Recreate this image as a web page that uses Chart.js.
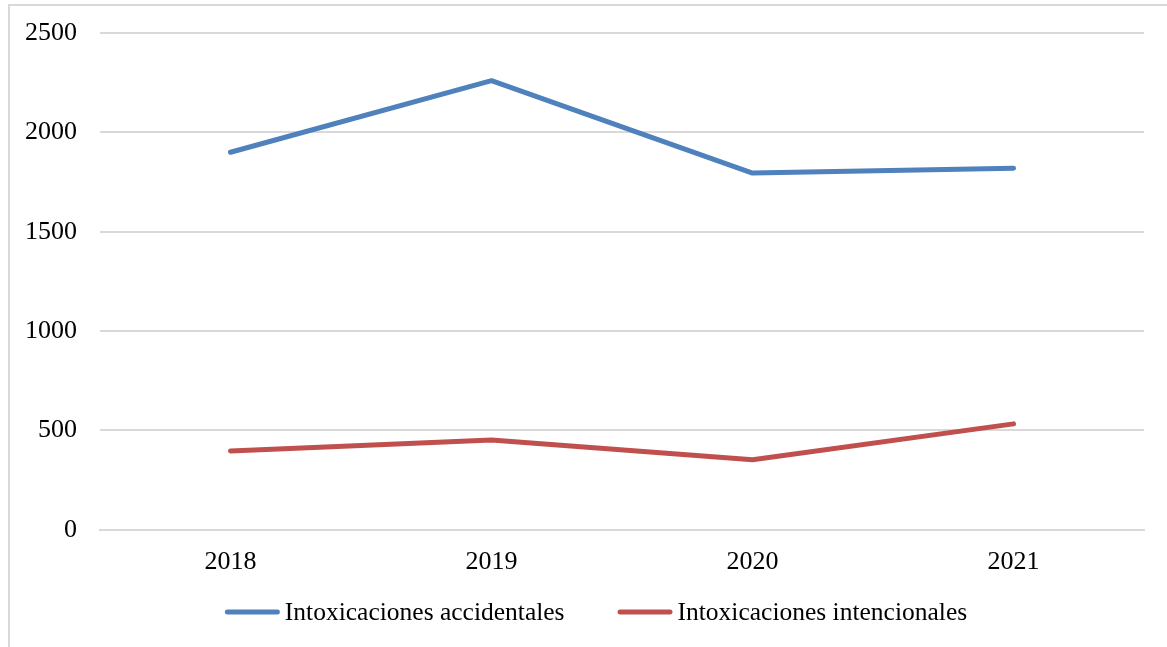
<!DOCTYPE html>
<html>
<head>
<meta charset="utf-8">
<script src="https://cdn.jsdelivr.net/npm/chart.js@4/dist/chart.umd.min.js"></script>
<style>
html,body{margin:0;padding:0;background:#fff;}
#wrap{position:relative;width:1167px;height:647px;}
#frame{position:absolute;left:8px;top:4px;width:1200px;height:700px;border-top:2px solid #d9d9d9;border-left:2px solid #d9d9d9;box-sizing:border-box;}
canvas{position:absolute;left:0;top:0;}
</style>
</head>
<body>
<div id="wrap">
<div id="frame"></div>
<canvas id="c" width="1167" height="647"></canvas>
</div>
<script>
const categories = ["2018", "2019", "2020", "2021"];
const accidentales = [1900, 2260, 1795, 1820];
const intencionales = [397, 452, 352, 533];
const seriesNames = ["Intoxicaciones accidentales", "Intoxicaciones intencionales"];
const yTicks = [0, 500, 1000, 1500, 2000, 2500];

const FONT = "'Liberation Serif', 'DejaVu Serif', serif";
const BLUE = "#4F81BD";
const RED = "#C0504D";

// Legend drawn with the datasets' own labels and colours
const lineLegend = {
  id: "lineLegend",
  afterDraw(chart) {
    const ctx = chart.ctx;
    const ds = chart.data.datasets;
    const lineLen = 55, gapText = 5, gapItem = 53, y = 612;
    ctx.save();
    ctx.font = "25.5px " + FONT;
    const widths = ds.map(d => ctx.measureText(d.label).width);
    const total = widths.reduce((a, w) => a + lineLen + gapText + w, 0) + gapItem * (ds.length - 1);
    let x = 596 - total / 2;
    ds.forEach((d, i) => {
      ctx.strokeStyle = d.borderColor;
      ctx.lineWidth = 5;
      ctx.lineCap = "round";
      ctx.beginPath();
      ctx.moveTo(x + 2.5, y);
      ctx.lineTo(x + lineLen - 2.5, y);
      ctx.stroke();
      ctx.fillStyle = "#000";
      ctx.textBaseline = "middle";
      ctx.textAlign = "left";
      ctx.fillText(d.label, x + lineLen + gapText, y + 1);
      x += lineLen + gapText + widths[i] + gapItem;
    });
    ctx.restore();
  }
};

new Chart(document.getElementById("c"), {
  type: "line",
  data: {
    labels: categories,
    datasets: [
      {label: seriesNames[0], data: accidentales, borderColor: BLUE, backgroundColor: BLUE,
       borderWidth: 5, pointRadius: 0, borderCapStyle: "round", borderJoinStyle: "round", tension: 0},
      {label: seriesNames[1], data: intencionales, borderColor: RED, backgroundColor: RED,
       borderWidth: 5, pointRadius: 0, borderCapStyle: "round", borderJoinStyle: "round", tension: 0}
    ]
  },
  options: {
    responsive: false,
    animation: false,
    devicePixelRatio: 1,
    layout: {padding: {left: 24, right: 23, top: 33, bottom: 52}},
    plugins: {
      tooltip: {enabled: false},
      legend: {display: false}
    },
    scales: {
      x: {
        offset: true,
        grid: {display: false, drawTicks: false},
        border: {display: true, color: "#d9d9d9", width: 2},
        ticks: {color: "#000", font: {family: FONT, size: 26}, padding: 17}
      },
      y: {
        min: 0, max: 2500,
        afterBuildTicks: (s) => { s.ticks = yTicks.map(v => ({value: v})); },
        afterFit: (s) => { s.width = 76; s.paddingTop = 0; s.paddingBottom = 0; },
        grid: {color: "#d9d9d9", lineWidth: 2, drawTicks: false},
        border: {display: false},
        ticks: {color: "#000", font: {family: FONT, size: 26}, padding: 23,
                callback: (v) => String(v)}
      }
    }
  },
  plugins: [lineLegend]
});
</script>
</body>
</html>
